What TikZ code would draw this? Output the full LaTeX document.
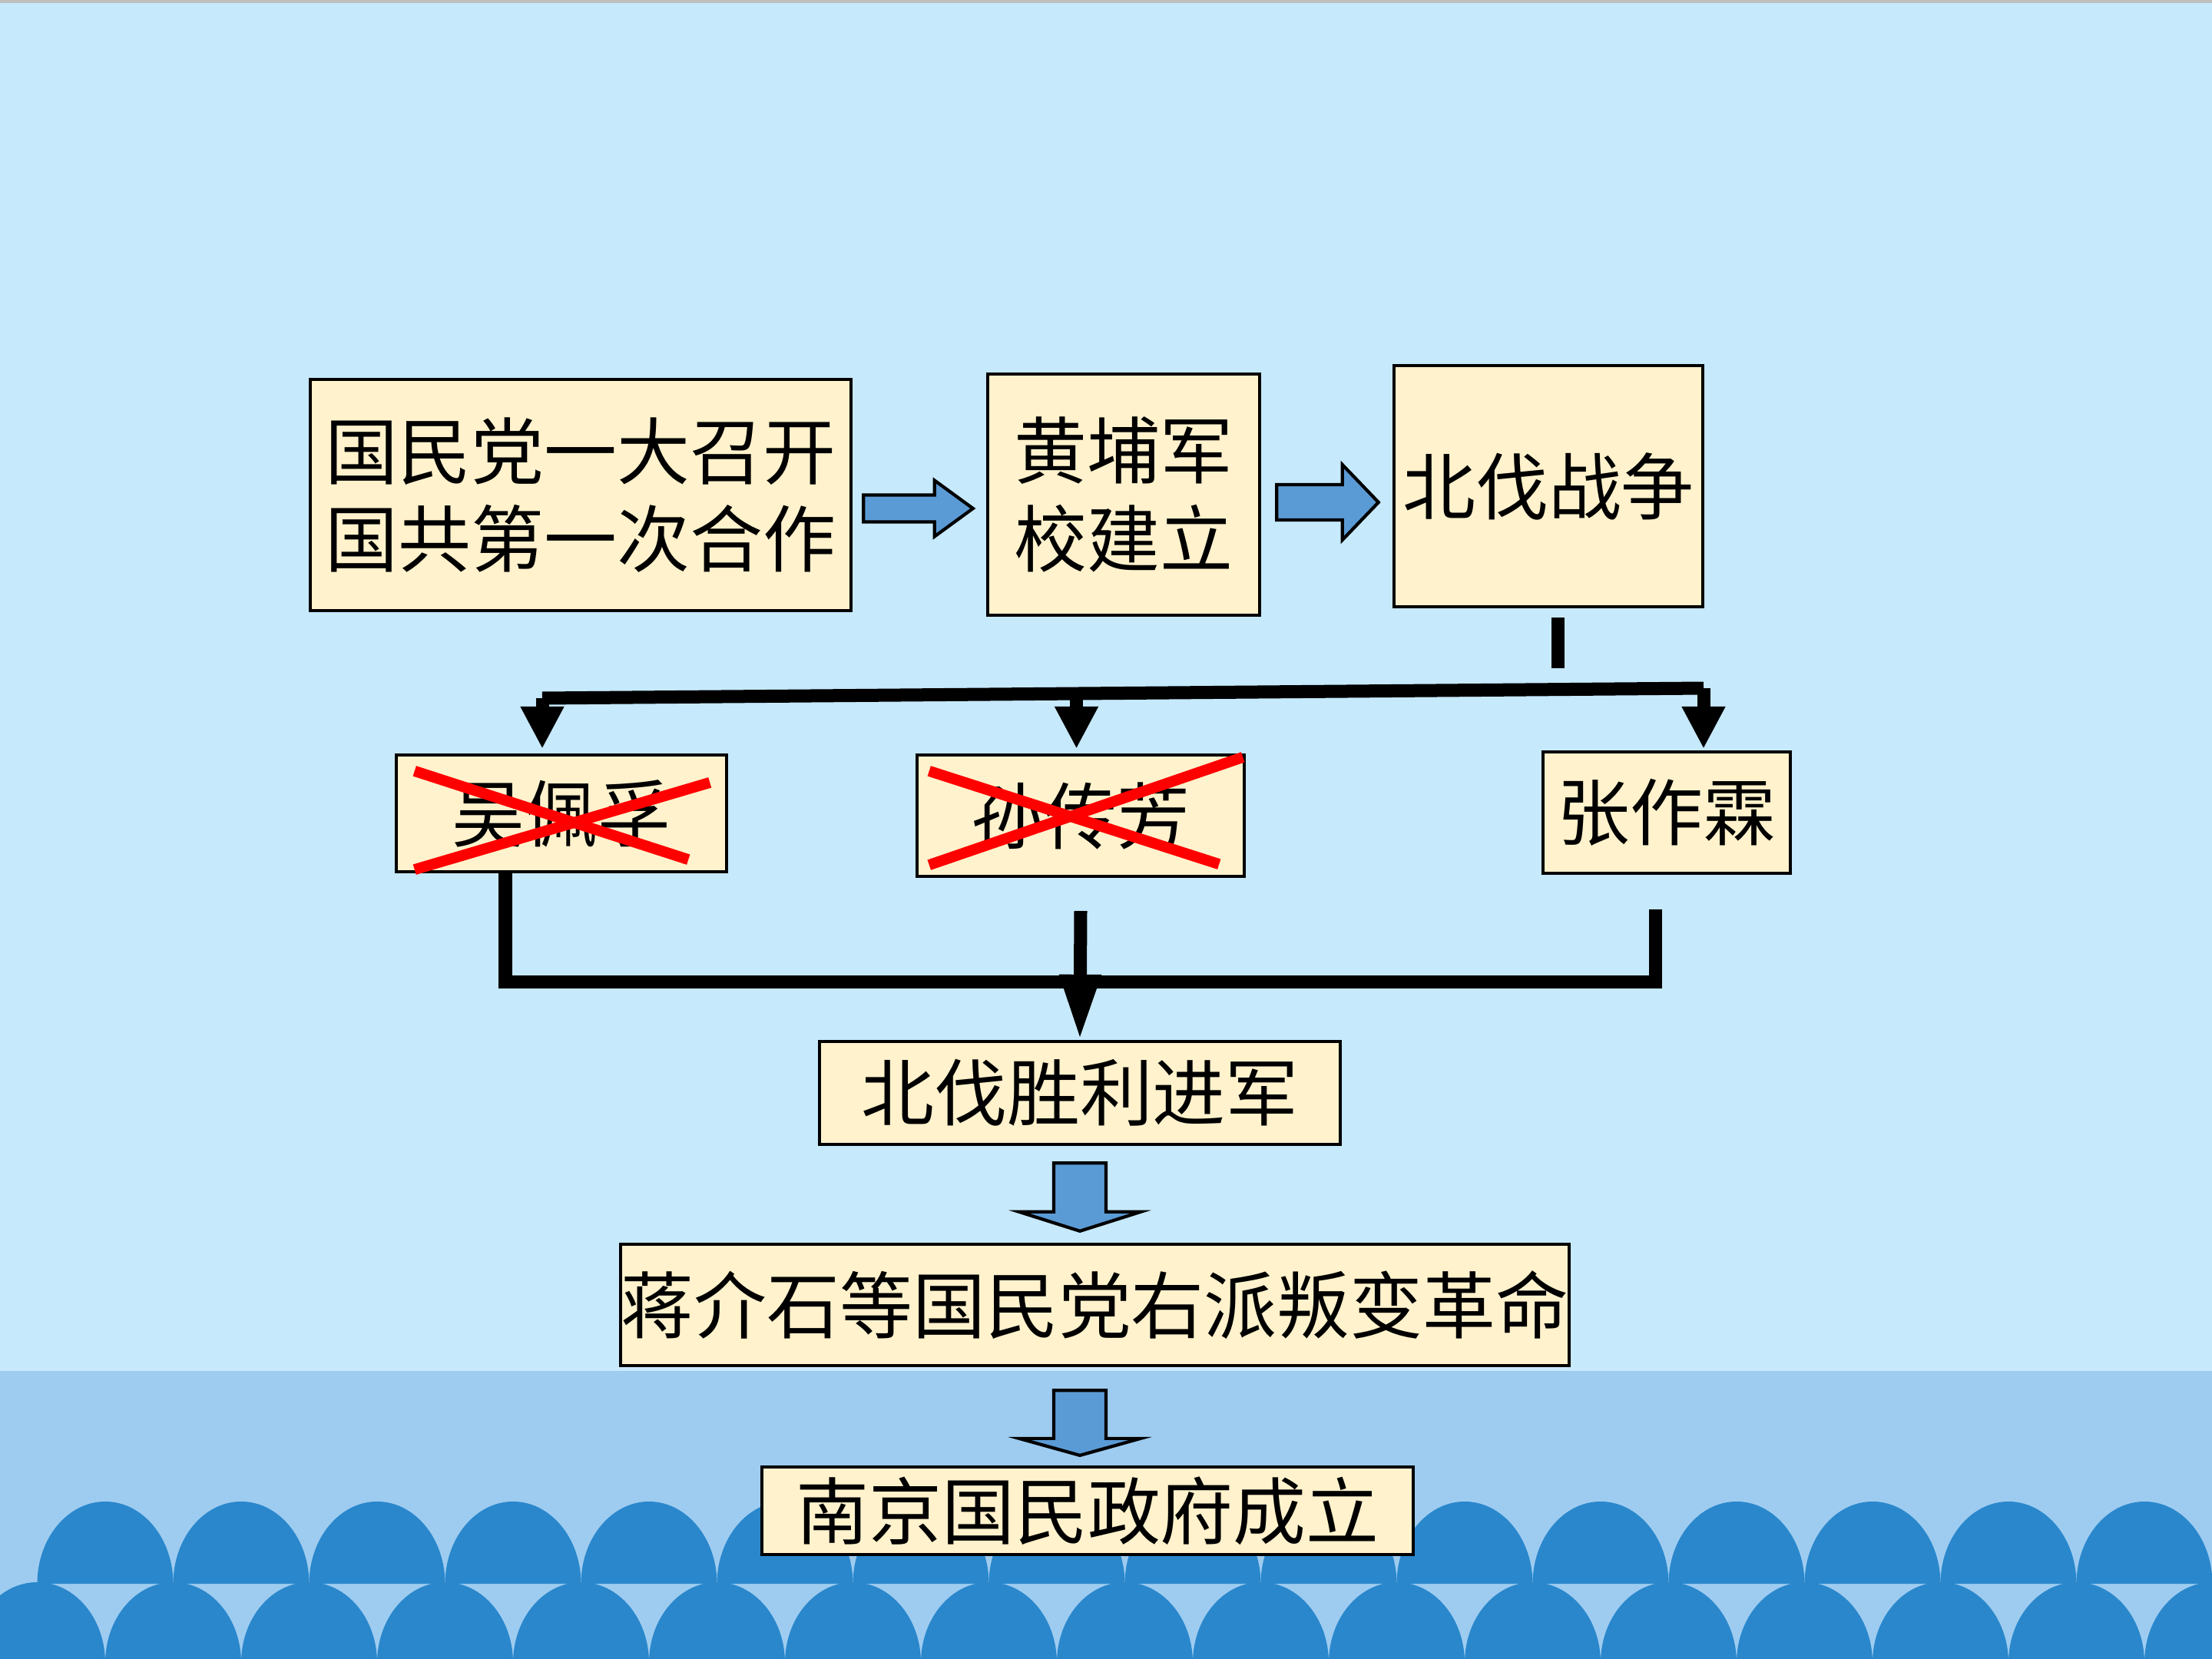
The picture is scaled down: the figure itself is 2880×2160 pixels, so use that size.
\documentclass[tikz,border=0pt]{standalone}
\usepackage{fontspec}
\newfontfamily\cjk{Noto Sans CJK SC}
\usetikzlibrary{arrows.meta,calc}

\definecolor{sky}{RGB}{198,233,251}
\definecolor{band}{RGB}{158,204,240}
\definecolor{wave}{RGB}{42,135,204}
\definecolor{boxfill}{RGB}{255,242,204}
\definecolor{arrowblue}{RGB}{91,155,213}

\tikzset{box/.style={rectangle, draw=black, line width=1.2pt, fill=boxfill,
    inner sep=0pt, align=center, font=\cjk\fontsize{27pt}{32.6pt}\selectfont}}
\tikzset{blockarrow/.style={draw=black, line width=1.2pt, fill=arrowblue, line join=miter}}
\tikzset{bar/.style={draw=black, line width=0.17cm}}
\tikzset{arr/.style={bar, -{Triangle[length=0.55cm,width=0.53cm]}}}
\tikzset{redx/.style={draw=red, line width=0.14cm}}

% fat blue arrows: from, to, shaft half width, head half width, head length
\newcommand{\blockright}[5]{\draw[blockarrow] let \p1=#1, \p2=#2 in
    (\x1,\y1+#3) -- (\x2-#5,\y1+#3) -- (\x2-#5,\y1+#4) -- (\x2,\y1)
    -- (\x2-#5,\y1-#4) -- (\x2-#5,\y1-#3) -- (\x1,\y1-#3) -- cycle;}
\newcommand{\blockdown}[5]{\draw[blockarrow] let \p1=#1, \p2=#2 in
    (\x1-#3,\y1) -- (\x1+#3,\y1) -- (\x1+#3,\y2+#5) -- (\x1+#4,\y2+#5) -- (\x1,\y2)
    -- (\x1-#4,\y2+#5) -- (\x1-#3,\y2+#5) -- cycle;}

\begin{document}
\begin{tikzpicture}[x=0.01cm, y=-0.01cm]
 \useasboundingbox (0,0) rectangle (2880,2160);
 % background
 \fill[sky] (0,0) rectangle (2880,2160);
 \fill[black!25] (0,0) rectangle (2880,4);
 \fill[band] (0,1785) rectangle (2880,2160);
 \begin{scope}
  \clip (0,0) rectangle (2880,2160);
  \foreach \k in {0,...,15}
    \fill[wave] ({48.5+177*\k},2062) arc[start angle=180,end angle=360,x radius=88.5,y radius=107] -- cycle;
  \foreach \k in {0,...,16}
    \fill[wave] ({-40+177*\k},2165) arc[start angle=180,end angle=360,x radius=88.5,y radius=105] -- cycle;
 \end{scope}

 \node[box, minimum width=7.04cm, minimum height=3.01cm] (A) at (756,644.5) {国民党一大召开\\国共第一次合作};
 \node[box, minimum width=3.54cm, minimum height=3.14cm] (B) at (1463,644) {黄埔军\\校建立};
 \node[box, minimum width=4.02cm, minimum height=3.14cm] (C) at (2016,633) {北伐战争};
 \node[box, minimum width=4.30cm, minimum height=1.52cm] (D) at (731,1059) {吴佩孚};
 \node[box, minimum width=4.25cm, minimum height=1.58cm] (E) at (1407,1062) {孙传芳};
 \node[box, minimum width=3.22cm, minimum height=1.58cm] (F) at (2170,1058) {张作霖};
 \node[box, minimum width=6.78cm, minimum height=1.34cm] (G) at (1406,1423) {北伐胜利进军};
 \node[box, minimum width=12.31cm, minimum height=1.58cm] (H) at (1425.5,1699) {蒋介石等国民党右派叛变革命};
 \node[box, minimum width=8.48cm, minimum height=1.14cm] (I) at (1416,1967) {南京国民政府成立};

 \blockright{($(A.east)+(14,17.5)$)}{($(B.west)+(-17,0)$)}{0.175cm}{0.365cm}{0.5cm}
 \blockright{($(B.east)+(20,10)$)}{($(C.west)+(-18,0)$)}{0.23cm}{0.49cm}{0.47cm}
 \blockdown{($(G.south)+(0,22)$)}{($(H.north)+(0,-15)$)}{0.34cm}{0.79cm}{0.25cm}
 \blockdown{($(H.south -| G.south)+(0,30)$)}{($(I.north)+(0,-13)$)}{0.34cm}{0.79cm}{0.22cm}

 % split after the war
 \coordinate (barL) at (706,909);
 \coordinate (barR) at (2218,896);
 \coordinate (barM) at ($(barL)!0.46!(barR)$);
 \draw[bar] ($(C.south)+(12,12)$) -- ++(0,66);
 \draw[bar] (barL) -- (barR);
 \draw[arr, shorten >=0.06cm] (barL) -- (barL |- D.north);
 \draw[arr, shorten >=0.06cm] (barM) -- (barM |- E.north);
 \draw[arr, shorten >=0.02cm] (barR) -- (barR |- F.north);

 % join again
 \coordinate (joinL) at (658,1278);
 \coordinate (joinR) at (2155,1278);
 \draw[bar] (D.south -| joinL) -- (joinL) -- (joinR) -- ++(0,-94);
 \draw[bar, -{Triangle[length=0.85cm,width=0.5cm]}] ($(E.south)+(0,43)$) -- (G.north);

 % crossed out
 \draw[redx] ($(D.north west)+(26,23)$) -- ($(D.south east)+(-52,-18)$);
 \draw[redx] ($(D.south west)+(26,-5)$) -- ($(D.north east)+(-24,38)$);
 \draw[redx] ($(E.north west)+(17.5,23)$) -- ($(E.south east)+(-34.5,-18)$);
 \draw[redx] ($(E.south west)+(17.5,-17)$) -- ($(E.north east)+(-3.5,5)$);
\end{tikzpicture}
\end{document}
